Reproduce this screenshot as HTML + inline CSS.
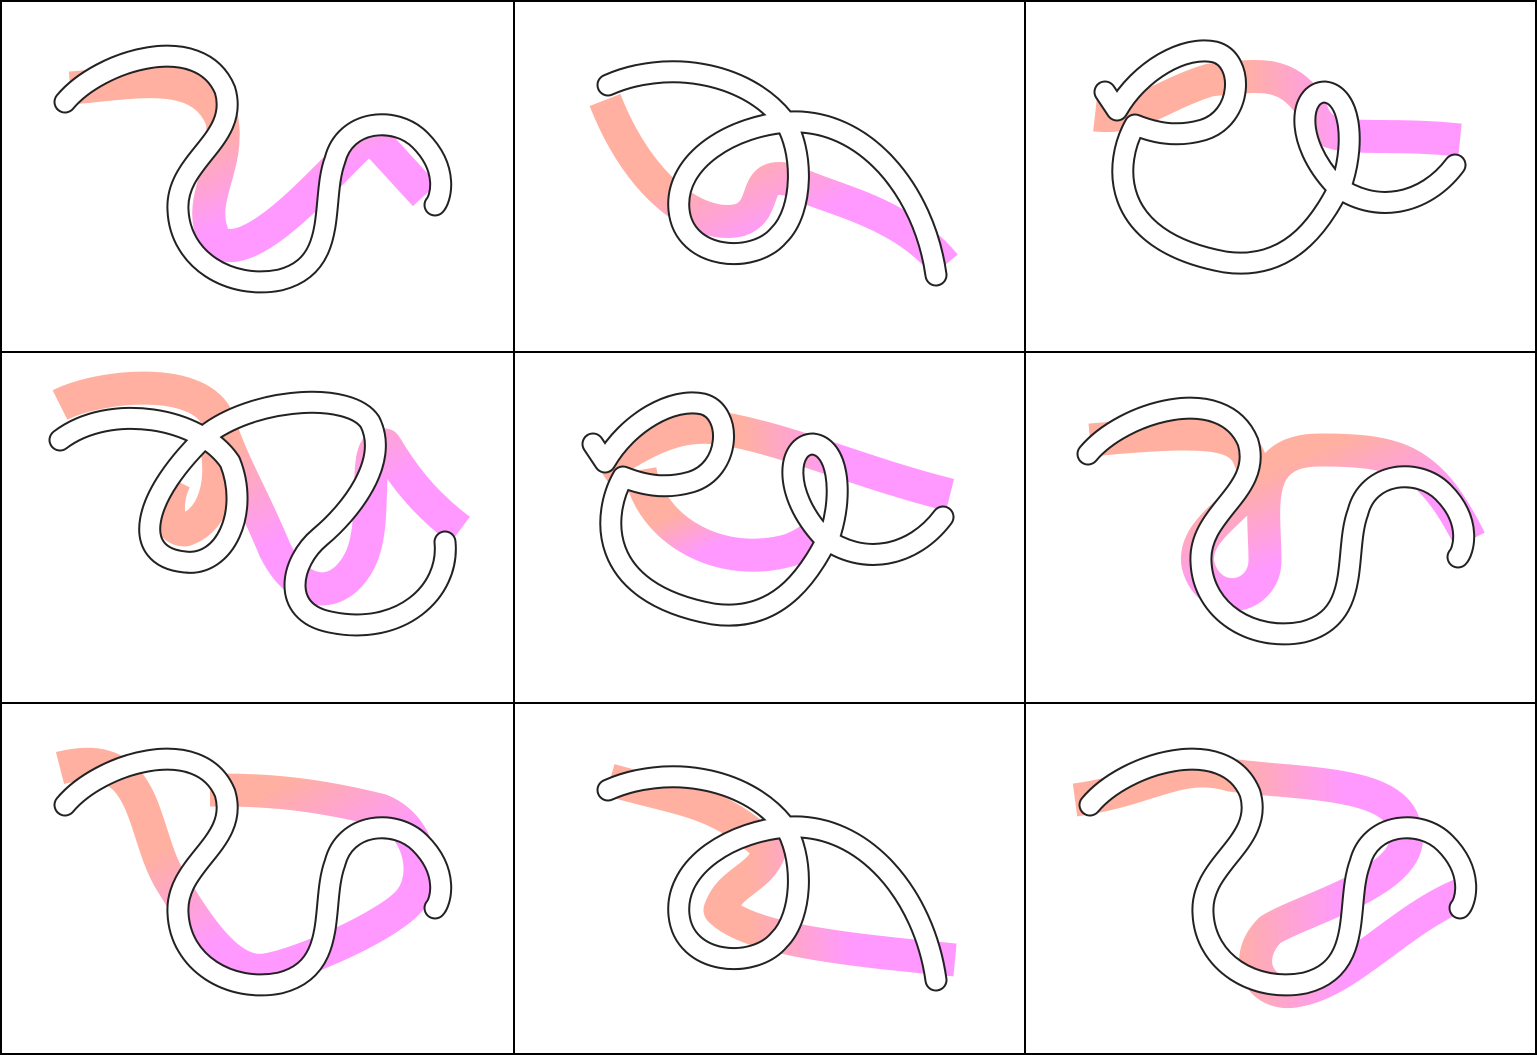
<!DOCTYPE html>
<html><head><meta charset="utf-8"><style>
html,body{margin:0;padding:0;background:#fff;width:1537px;height:1055px;overflow:hidden}
svg{display:block}
.c{fill:none;stroke-width:33;stroke-linecap:butt;stroke-linejoin:round}
.o{fill:none;stroke:#222;stroke-width:23;stroke-linecap:round;stroke-linejoin:round}
.i{fill:none;stroke:#fff;stroke-width:19;stroke-linecap:round;stroke-linejoin:round}
</style></head><body>
<svg width="1537" height="1055" viewBox="0 0 1537 1055">
<defs>
<linearGradient id="g" x1="0" y1="0" x2="1" y2="1"><stop offset="0.35" stop-color="#ffb0a0"/><stop offset="0.65" stop-color="#ff99ff"/></linearGradient>
<linearGradient id="gh" x1="0" y1="0" x2="1" y2="0"><stop offset="0.4" stop-color="#ffb0a0"/><stop offset="0.7" stop-color="#ff99ff"/></linearGradient>
<path id="A" d="M65,102 C100,60 200,30 225,90 C240,140 175,160 178,210 C180,260 230,290 280,280 C340,265 320,200 335,160 C345,120 395,115 420,140 C450,170 440,200 435,205"/>
<path id="B" d="M94,85 C150,60 230,70 270,120 C290,150 290,210 265,235 C240,265 170,260 165,210 C160,160 220,125 275,122 C350,118 410,190 422,275"/>
<path id="C" d="M80,92 L92,110 C115,70 160,45 190,52 C220,60 218,118 178,130 C150,138 128,132 110,125 C90,160 80,240 200,262 C270,272 300,215 318,180 C330,140 325,95 300,92 C275,92 268,140 310,185 C350,215 400,205 430,165"/>
<path id="D" d="M60,88 C110,50 200,65 230,110 C250,160 225,215 185,210 C130,205 140,145 210,80 C260,45 350,40 370,70 C390,110 350,160 320,185 C290,210 280,260 330,270 C400,285 450,240 445,190"/>
</defs>
<g>
<path class="c" stroke="url(#g)" d="M70,88 C130,84 200,65 222,120 C230,170 195,200 215,240 C250,270 330,170 370,135 L425,195"/>
<path class="c" stroke="url(#g)" d="M605,100 C640,190 700,230 740,220 C770,210 750,170 790,180 C830,200 900,210 945,265"/>
<path class="c" stroke="url(#gh)" d="M1095,115 C1140,120 1160,95 1210,80 C1260,75 1285,70 1310,105 C1320,150 1360,130 1460,140"/>
<path class="c" stroke="url(#g)" d="M60,405 C100,385 200,375 218,420 C235,470 250,490 275,550 C300,600 340,600 360,560 C380,520 360,440 385,445 C400,470 420,500 460,530"/>
<path class="c" stroke="#ffb0a0" d="M215,440 C225,480 215,520 185,530 C165,530 165,500 175,480"/>
<path class="c" stroke="url(#gh)" d="M600,470 C660,430 690,420 740,432 C800,445 870,475 950,495"/>
<path class="c" stroke="url(#g)" d="M640,470 C650,530 720,570 790,550 C815,540 820,530 820,520"/>
<path class="c" stroke="url(#g)" d="M1090,440 C1200,430 1240,430 1250,460 C1270,500 1190,520 1198,565 C1210,610 1265,600 1265,560 C1265,510 1250,450 1320,450 C1400,450 1430,460 1470,540"/>
<path class="c" stroke="url(#g)" d="M60,768 C150,745 140,830 170,880 C200,930 230,975 265,970 C300,965 390,925 410,900 C430,875 420,825 380,810 C300,790 250,790 210,790"/>
<path class="c" stroke="url(#gh)" d="M610,780 C680,800 720,800 770,850 C760,880 730,880 720,910 C750,940 850,950 955,960"/>
<path class="c" stroke="url(#gh)" d="M1075,800 C1150,790 1180,760 1230,775 C1300,785 1400,780 1405,830 C1420,880 1300,910 1270,930 C1240,960 1260,1000 1300,990 C1350,980 1400,920 1460,895"/>
</g>
<g>
<g transform="translate(0,0)"><use href="#A" class="o"/><use href="#A" class="i"/></g>
<g transform="translate(514,0)"><use href="#B" class="o"/><use href="#B" class="i"/></g>
<g transform="translate(1025,0)"><use href="#C" class="o"/><use href="#C" class="i"/></g>
<g transform="translate(0,352)"><use href="#D" class="o"/><use href="#D" class="i"/></g>
<g transform="translate(513,352)"><use href="#C" class="o"/><use href="#C" class="i"/></g>
<g transform="translate(1023,352)"><use href="#A" class="o"/><use href="#A" class="i"/></g>
<g transform="translate(0,703)"><use href="#A" class="o"/><use href="#A" class="i"/></g>
<g transform="translate(514,705)"><use href="#B" class="o"/><use href="#B" class="i"/></g>
<g transform="translate(1025,703)"><use href="#A" class="o"/><use href="#A" class="i"/></g>
</g>
<g stroke="#000" stroke-width="2" fill="none">
<rect x="1" y="1" width="1535" height="1053"/>
<line x1="514" y1="0" x2="514" y2="1055"/>
<line x1="1025" y1="0" x2="1025" y2="1055"/>
<line x1="0" y1="352" x2="1537" y2="352"/>
<line x1="0" y1="703" x2="1537" y2="703"/>
</g>
</svg>
</body></html>
